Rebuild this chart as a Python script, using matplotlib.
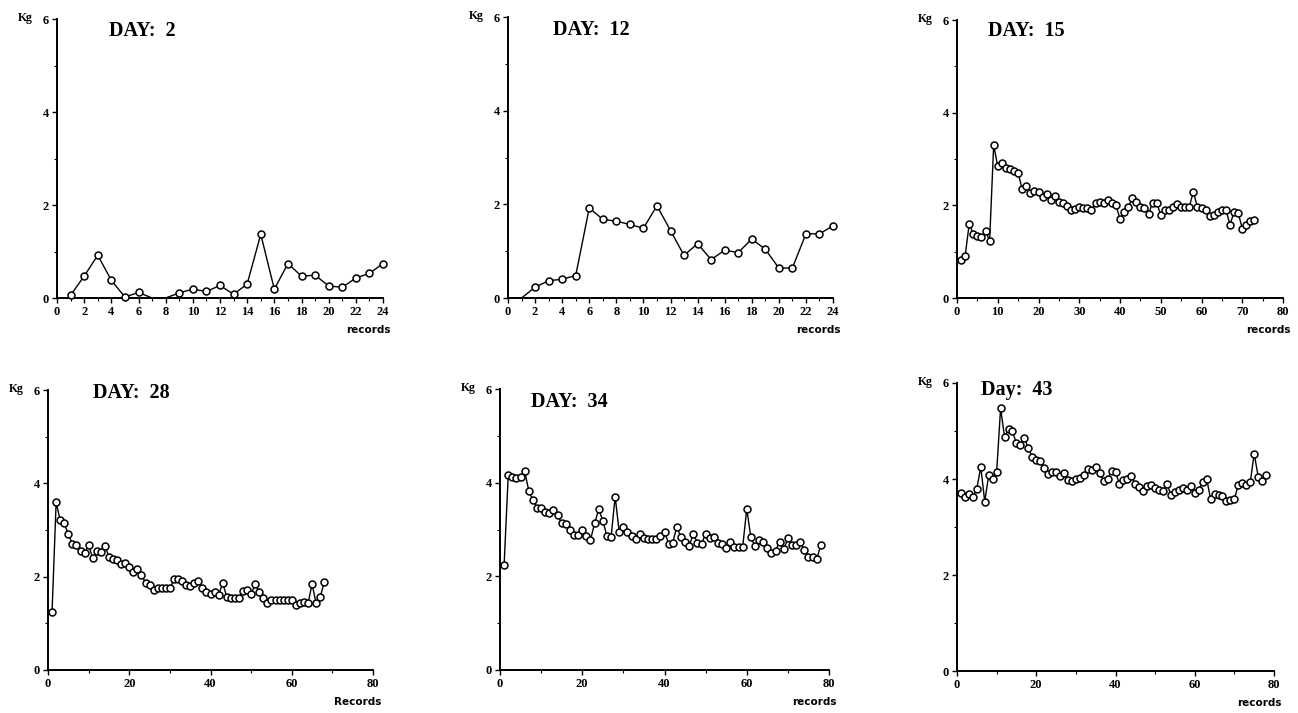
import matplotlib
matplotlib.use("Agg")
import matplotlib.pyplot as plt
from matplotlib.ticker import MultipleLocator

# ---------------- data (kg per record) ----------------
day2_values = [0.06, 0.47, 0.92, 0.38, 0.02, 0.12, 0.0, 0.0, 0.11, 0.19, 0.14, 0.27,
               0.08, 0.30, 1.37, 0.19, 0.74, 0.47, 0.49, 0.26, 0.23, 0.43, 0.53, 0.74]
day2_hidden = [7, 8]          # records drawn on the axis without a circle

day12_values = [0.0, 0.23, 0.37, 0.40, 0.48, 1.92, 1.68, 1.64, 1.57, 1.49, 1.97, 1.44,
                0.91, 1.16, 0.82, 1.02, 0.97, 1.26, 1.04, 0.64, 0.64, 1.37, 1.37, 1.54]
day12_hidden = [1]

day15_values = [0.81, 0.91, 1.60, 1.38, 1.34, 1.31, 1.45, 1.23, 3.30, 2.84, 2.91, 2.80,
                2.78, 2.75, 2.69, 2.35, 2.42, 2.27, 2.32, 2.29, 2.17, 2.24, 2.12, 2.20,
                2.08, 2.04, 1.99, 1.91, 1.92, 1.96, 1.94, 1.94, 1.91, 2.04, 2.08, 2.06,
                2.12, 2.04, 2.01, 1.70, 1.86, 1.96, 2.15, 2.08, 1.96, 1.94, 1.81, 2.06,
                2.06, 1.79, 1.91, 1.91, 1.96, 2.03, 1.97, 1.96, 1.97, 2.29, 1.96, 1.94,
                1.90, 1.77, 1.79, 1.86, 1.90, 1.90, 1.58, 1.86, 1.84, 1.50, 1.58, 1.67,
                1.68]

day28_values = [1.25, 3.59, 3.21, 3.14, 2.91, 2.70, 2.68, 2.54, 2.50, 2.68, 2.39, 2.54,
                2.52, 2.66, 2.43, 2.37, 2.36, 2.27, 2.30, 2.20, 2.11, 2.16, 2.04, 1.87,
                1.82, 1.71, 1.75, 1.75, 1.75, 1.75, 1.94, 1.94, 1.91, 1.82, 1.79, 1.86,
                1.91, 1.75, 1.68, 1.63, 1.68, 1.61, 1.86, 1.57, 1.54, 1.54, 1.54, 1.70,
                1.71, 1.63, 1.84, 1.68, 1.54, 1.44, 1.50, 1.50, 1.51, 1.51, 1.51, 1.50,
                1.39, 1.44, 1.46, 1.43, 1.84, 1.43, 1.56, 1.88]

day34_values = [2.24, 4.16, 4.12, 4.10, 4.12, 4.24, 3.83, 3.62, 3.46, 3.45, 3.38, 3.35,
                3.42, 3.31, 3.13, 3.12, 3.00, 2.88, 2.88, 3.00, 2.86, 2.78, 3.13, 3.43,
                3.19, 2.86, 2.83, 3.70, 2.94, 3.05, 2.94, 2.86, 2.79, 2.90, 2.81, 2.80,
                2.80, 2.80, 2.86, 2.95, 2.70, 2.72, 3.06, 2.83, 2.74, 2.65, 2.90, 2.72,
                2.70, 2.90, 2.81, 2.85, 2.72, 2.70, 2.60, 2.74, 2.63, 2.62, 2.62, 3.44,
                2.83, 2.65, 2.78, 2.74, 2.60, 2.49, 2.55, 2.74, 2.58, 2.81, 2.67, 2.67,
                2.73, 2.56, 2.42, 2.42, 2.36, 2.67]

day43_values = [3.70, 3.62, 3.68, 3.62, 3.80, 4.25, 3.53, 4.08, 3.99, 4.14, 5.47, 4.88,
                5.04, 4.99, 4.74, 4.71, 4.86, 4.64, 4.46, 4.40, 4.38, 4.22, 4.10, 4.15,
                4.14, 4.06, 4.12, 3.98, 3.96, 4.00, 4.03, 4.08, 4.21, 4.19, 4.24, 4.12,
                3.96, 4.00, 4.17, 4.15, 3.89, 3.98, 3.99, 4.06, 3.89, 3.84, 3.74, 3.86,
                3.88, 3.82, 3.77, 3.75, 3.89, 3.67, 3.72, 3.77, 3.81, 3.77, 3.86, 3.70,
                3.77, 3.93, 4.01, 3.58, 3.69, 3.67, 3.65, 3.54, 3.56, 3.58, 3.88, 3.91,
                3.88, 3.93, 4.53, 4.05, 3.96, 4.08]

titles = ["DAY:  2", "DAY:  12", "DAY:  15", "DAY:  28", "DAY:  34", "Day:  43"]
xlabels = ["records", "records", "records", "Records", "records", "records"]
series = [day2_values, day12_values, day15_values, day28_values, day34_values, day43_values]
hidden = [day2_hidden, day12_hidden, [], [], [], []]
x_max = [24, 24, 80, 80, 80, 80]
x_major = [2, 2, 10, 20, 20, 20]
x_minor = [1, 1, 5, 10, 10, 10]

# ---------------- layout ----------------
W, H = 1298, 713
# axes boxes in pixels: (left, top, right, bottom)
boxes = [(57, 19, 383, 298), (508, 17, 833, 298), (957, 20, 1283, 298),
         (48, 390, 373, 670), (500, 389, 829, 670), (957, 383, 1274, 671)]
title_pos = [(109, 31), (553, 30), (988, 31), (93, 393), (531, 402), (981, 390)]

plt.rcParams['font.family'] = ['Liberation Serif', 'DejaVu Serif']

fig = plt.figure(figsize=(W / 100, H / 100), dpi=100)
fig.patch.set_facecolor('white')

for k in range(6):
    l, t, r, b = boxes[k]
    ax = fig.add_axes([l / W, 1 - b / H, (r - l) / W, (b - t) / H])
    vals = series[k]
    xs = list(range(1, len(vals) + 1))
    mk = [i for i, xv in enumerate(xs) if xv not in hidden[k]]
    ax.plot(xs, vals, color='black', lw=1.0, marker='o', ms=5.0,
            mfc='white', mec='black', mew=1.1, markevery=mk,
            clip_on=False, zorder=3)
    ax.set_xlim(0, x_max[k])
    ax.set_ylim(0, 6)
    for s in ('top', 'right'):
        ax.spines[s].set_visible(False)
    for s in ('left', 'bottom'):
        ax.spines[s].set_linewidth(1.4)
    ax.xaxis.set_major_locator(MultipleLocator(x_major[k]))
    ax.xaxis.set_minor_locator(MultipleLocator(x_minor[k]))
    ax.yaxis.set_major_locator(MultipleLocator(2))
    ax.yaxis.set_minor_locator(MultipleLocator(1))
    ax.tick_params(which='major', direction='out', length=3.5, width=1.0,
                   labelsize=9, pad=2.5)
    ax.tick_params(which='minor', direction='out', length=2, width=0.8)
    for lab in ax.get_xticklabels() + ax.get_yticklabels():
        lab.set_fontweight('bold')

    tx, ty = title_pos[k]
    fig.text(tx / W, 1 - ty / H, titles[k], fontsize=14.5, fontweight='bold',
             ha='left', va='center')
    # Kg label beside the top tick
    ax.annotate('Kg', xy=(0, 6), xycoords=('axes fraction', 'data'),
                xytext=(-32, 1), textcoords='offset pixels',
                ha='center', va='center', fontsize=8.5, fontweight='bold')
    # records label under right end of the x axis
    ax.annotate(xlabels[k], xy=(1, 0), xycoords='axes fraction',
                xytext=(8, -32), textcoords='offset pixels',
                ha='right', va='center', fontsize=7.5, fontweight='bold',
                family='DejaVu Sans')

fig.savefig('out.png', dpi=100, facecolor='white')
